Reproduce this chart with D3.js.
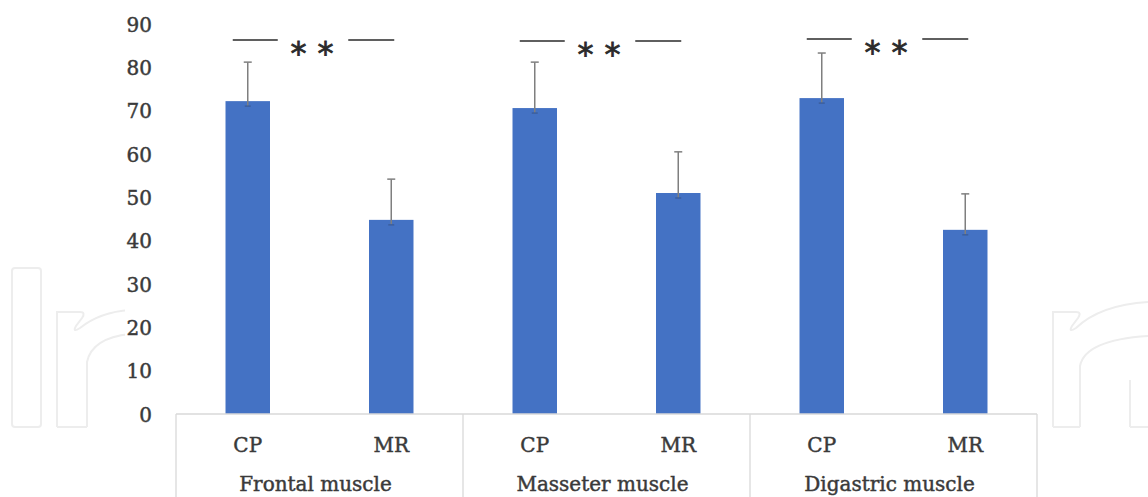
<!DOCTYPE html>
<html><head><meta charset="utf-8">
<script src="https://cdn.jsdelivr.net/npm/d3@7"></script>
<style>html,body{margin:0;padding:0;background:#fff;overflow:hidden}</style>
</head><body><svg id="c" width="1148" height="497"></svg>
<script>
const groups = ["Frontal muscle", "Masseter muscle", "Digastric muscle"];
const subs = ["CP", "MR"];
const means = [72.2, 44.8, 70.6, 51.0, 72.9, 42.5];
const errors = [9.0, 9.4, 10.6, 9.5, 10.4, 8.3];
const yTicks = [0, 10, 20, 30, 40, 50, 60, 70, 80, 90];
const sigLabels = ["*", "*"];

const svg = d3.select("#c");
const font = "'DejaVu Serif', serif";
const textCol = "#3a3a3a";
const gridCol = "#d9d9d9";

// watermark (faint outline logo)
const wm = svg.append("g").attr("fill", "none").attr("stroke", "#ededed").attr("stroke-width", 2);
wm.append("rect").attr("x", 12).attr("y", 268).attr("width", 29).attr("height", 159).attr("rx", 3);
wm.append("path").attr("d", "M57,427 L57,312 L80,312 Q86,312 82,318 L76,326 Q72,333 80,328 Q100,312 130,310 M87,427 L87,362 Q92,338 130,334 M57,427 L87,427");
wm.append("path").attr("d", "M1053,427 L1053,312 L1076,312 Q1082,312 1078,318 L1072,326 Q1068,333 1076,328 Q1100,305 1148,302 M1080,427 L1080,366 Q1085,340 1148,336 M1053,427 L1080,427");
wm.append("path").attr("d", "M1130,427 L1130,380 M1130,427 L1148,427");

const x0 = d3.scaleBand().domain(groups).range([176, 1037]).paddingInner(0).paddingOuter(0);
const x1 = d3.scaleBand().domain(subs).range([0, x0.bandwidth()]).paddingInner(0.69).paddingOuter(0.345);
const y = d3.scaleLinear().domain([0, 90]).range([414, 24]);

// white plot area covering watermark
svg.append("rect").attr("x", 125).attr("y", 0).attr("width", 920).attr("height", 414).attr("fill", "#fff");

function heavy(sel, col, w) {
  return sel.attr("stroke", col || textCol).attr("stroke-width", w || 0.45).attr("paint-order", "stroke");
}

// y axis labels
const yAxis = d3.axisLeft(y).tickValues(yTicks).tickSize(0).tickPadding(0);
const ya = svg.append("g").attr("transform", "translate(152,0)").call(yAxis);
ya.select(".domain").remove();
heavy(ya.selectAll("text").attr("font-family", font).attr("font-size", 20).attr("fill", textCol).attr("dy", "0.36em"));

// data rows
const rows = [];
groups.forEach((g, gi) => subs.forEach((s, si) => {
  const i = gi * subs.length + si;
  rows.push({g, s, v: means[i], e: errors[i]});
}));

// bars
svg.append("g").selectAll("rect").data(rows).join("rect")
  .attr("x", d => x0(d.g) + x1(d.s))
  .attr("width", x1.bandwidth())
  .attr("y", d => y(d.v))
  .attr("height", d => y(0) - y(d.v))
  .attr("fill", "#4472c4");

// error bars
const eb = svg.append("g").attr("stroke", "#7f7f7f").attr("stroke-width", 1.5);
rows.forEach(d => {
  const cx = x0(d.g) + x1(d.s) + x1.bandwidth() / 2;
  eb.append("line").attr("x1", cx).attr("x2", cx).attr("y1", y(d.v + d.e)).attr("y2", y(d.v) + 5);
  eb.append("line").attr("x1", cx - 4).attr("x2", cx + 4).attr("y1", y(d.v + d.e)).attr("y2", y(d.v + d.e));
  eb.append("line").attr("x1", cx - 3).attr("x2", cx + 3).attr("y1", y(d.v) + 5).attr("y2", y(d.v) + 5).attr("stroke", "#3b5f9e");
});

// category axis
const ax = svg.append("g").attr("stroke", gridCol).attr("stroke-width", 1.3);
ax.append("line").attr("x1", x0.range()[0]).attr("x2", x0.range()[1]).attr("y1", y(0)).attr("y2", y(0));
const seps = groups.map(g => x0(g)).concat([x0.range()[1]]);
ax.selectAll("line.sep").data(seps).join("line").attr("class", "sep")
  .attr("x1", d => d).attr("x2", d => d).attr("y1", y(0)).attr("y2", 497);

const lab = svg.append("g").attr("font-family", font).attr("font-size", 20).attr("fill", textCol).attr("text-anchor", "middle");
rows.forEach(d => {
  heavy(lab.append("text").attr("x", x0(d.g) + x1(d.s) + x1.bandwidth() / 2).attr("y", 452).text(d.s));
});
groups.forEach(g => {
  heavy(lab.append("text").attr("x", x0(g) + x0.bandwidth() / 2 - 4).attr("y", 491).text(g));
});

// significance markers
const sig = svg.append("g");
const sigY = [40, 41, 39];
groups.forEach((g, gi) => {
  const cpX = x0(g) + x1("CP") + x1.bandwidth() / 2;
  const mrX = x0(g) + x1("MR") + x1.bandwidth() / 2;
  const left = cpX - 15, right = mrX + 3;
  const mid = (left + right) / 2;
  sig.append("line").attr("x1", left).attr("x2", left + 45).attr("y1", sigY[gi]).attr("y2", sigY[gi]).attr("stroke", "#2a2a2a").attr("stroke-width", 1.4);
  sig.append("line").attr("x1", right - 46).attr("x2", right).attr("y1", sigY[gi]).attr("y2", sigY[gi]).attr("stroke", "#2a2a2a").attr("stroke-width", 1.4);
  sigLabels.forEach((s, k) => {
    heavy(sig.append("text").attr("x", mid - 15 + k * 27).attr("y", sigY[gi] + 24).attr("text-anchor", "middle")
      .attr("font-family", "'DejaVu Sans', sans-serif").attr("font-size", 32)
      .attr("fill", "#2a2a2a").text(s), "#2a2a2a", 0.8);
  });
});
</script>
</body></html>
